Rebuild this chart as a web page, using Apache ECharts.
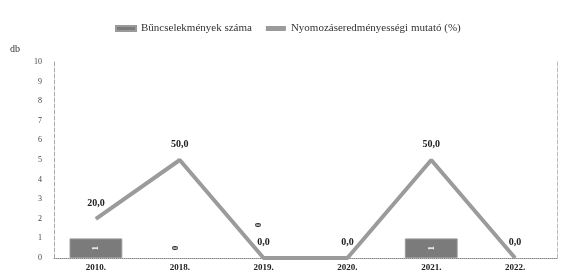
<!DOCTYPE html>
<html>
<head>
<meta charset="utf-8">
<script src="https://cdn.jsdelivr.net/npm/echarts@6/dist/echarts.min.js"></script>
<style>
  html, body { margin: 0; padding: 0; background: #fff; }
  #chart { width: 561px; height: 273px; }
</style>
</head>
<body>
<div id="chart"></div>
<script>
// data
var years = ['2010.', '2018.', '2019.', '2020.', '2021.', '2022.'];
var crimes = [1, 0, 0, 0, 1, 0];
var clearance = [20, 50, 0, 0, 50, 0];
var leftTicks = [0, 10];

var serif = '"Liberation Serif", "DejaVu Serif", serif';

// zero bars get a rotated "0" label sitting above the baseline, like the scan
// (offset is in the rotated frame, so x moves it up)
var zeroLift = { 1: 5, 2: 28 };
var barData = crimes.map((v, i) => {
    var item = { value: v };
    if (v === 0) {
        item.itemStyle = { borderWidth: 0, color: 'transparent' };
        item.label = {
            show: i in zeroLift, position: 'insideBottom', rotate: 90,
            color: '#222', offset: [zeroLift[i] || 0, 0]
        };
    }
    return item;
});

var chart = echarts.init(document.getElementById('chart'));
chart.setOption({
    animation: false,
    textStyle: { fontFamily: serif },
    legend: {
        top: 18, left: 110,
        itemWidth: 20, itemHeight: 5, itemGap: 14,
        textStyle: { fontFamily: serif, fontSize: 11, color: '#333' },
        data: [
            { name: 'Bűncselekmények száma', icon: 'rect' },
            { name: 'Nyomozáseredményességi mutató (%)', icon: 'rect' }
        ]
    },
    grid: { left: 54, right: 4, top: 62, bottom: 15 },
    xAxis: {
        type: 'category', data: years,
        axisLine: { lineStyle: { color: '#888', type: 'dotted', width: 1 } },
        axisTick: { show: false },
        axisLabel: { fontFamily: serif, fontSize: 9, fontWeight: 'bold', color: '#222', margin: 5 }
    },
    yAxis: [{
        type: 'value', min: leftTicks[0], max: leftTicks[1], interval: 1,
        name: 'db', nameLocation: 'end', nameGap: 8,
        nameTextStyle: { fontFamily: serif, fontSize: 10, color: '#333', align: 'right', padding: [0, 34, 0, 0] },
        axisLine: { show: true, lineStyle: { color: '#aaa', type: 'dashed' } },
        axisTick: { show: false },
        splitLine: { show: false },
        axisLabel: { fontFamily: serif, fontSize: 8, color: '#444', margin: 12 }
    }, {
        type: 'value', min: 0, max: 100,
        axisLine: { show: true, lineStyle: { color: '#bbb', type: 'dashed' } },
        axisTick: { show: false },
        splitLine: { show: false },
        axisLabel: { show: false }
    }],
    series: [{
        name: 'Bűncselekmények száma', type: 'bar', yAxisIndex: 0,
        data: barData, barWidth: '63%',
        itemStyle: { color: '#7b7b7b', borderColor: '#9a9a9a', borderWidth: 1 },
        label: {
            show: true, position: 'inside', rotate: 90,
            color: '#fff', fontFamily: serif, fontSize: 9, fontWeight: 'bold'
        }
    }, {
        name: 'Nyomozáseredményességi mutató (%)', type: 'line', yAxisIndex: 1,
        data: clearance, symbol: 'circle', symbolSize: 1, showSymbol: true,
        lineStyle: { color: '#9b9b9b', width: 4 },
        itemStyle: { color: '#9b9b9b' },
        label: {
            show: true, position: 'top', distance: 10,
            fontFamily: serif, fontSize: 10, fontWeight: 'bold', color: '#222',
            formatter: (p) => p.value.toFixed(1).replace('.', ',')
        }
    }]
});
</script>
</body>
</html>
